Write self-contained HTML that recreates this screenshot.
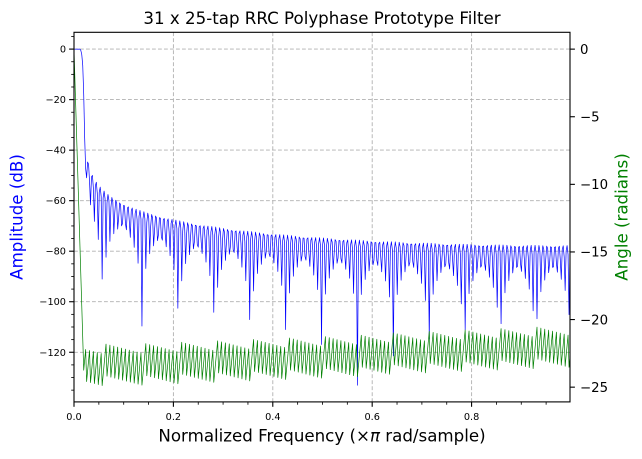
<!DOCTYPE html>
<html>
<head>
<meta charset="utf-8">
<style>
  html, body { margin:0; padding:0; background:#ffffff; }
  body { width:642px; height:459px; overflow:hidden; }
  svg { display:block; }
  text { font-family: "DejaVu Sans", "Liberation Sans", sans-serif; }
</style>
</head>
<body>
<svg id="chart" width="642" height="459" viewBox="0 0 642 459" xmlns="http://www.w3.org/2000/svg">
  <rect x="0" y="0" width="642" height="459" fill="#ffffff"/>
  <defs>
    <clipPath id="axclip"><rect x="74" y="32.3" width="496" height="369.6"/></clipPath>
  </defs>

  <!-- grid -->
  <g stroke="#b0b0b0" stroke-width="0.9" stroke-dasharray="3.8 2.2" fill="none">
    <line x1="173.4" y1="32.3" x2="173.4" y2="401.9"/>
    <line x1="272.8" y1="32.3" x2="272.8" y2="401.9"/>
    <line x1="372.2" y1="32.3" x2="372.2" y2="401.9"/>
    <line x1="471.6" y1="32.3" x2="471.6" y2="401.9"/>
    <line x1="74" y1="49.1" x2="570" y2="49.1"/>
    <line x1="74" y1="99.6" x2="570" y2="99.6"/>
    <line x1="74" y1="150.1" x2="570" y2="150.1"/>
    <line x1="74" y1="200.7" x2="570" y2="200.7"/>
    <line x1="74" y1="251.2" x2="570" y2="251.2"/>
    <line x1="74" y1="301.7" x2="570" y2="301.7"/>
    <line x1="74" y1="352.3" x2="570" y2="352.3"/>
  </g>

  <g clip-path="url(#axclip)">
    <path id="blue" d="" fill="none" stroke="#0000ff" stroke-width="0.7" stroke-linejoin="round"/>
    <path id="green" d="" fill="none" stroke="#008000" stroke-width="0.7" stroke-linejoin="round"/>
  </g>

  <!-- spines -->
  <rect x="74" y="32.3" width="496" height="369.6" fill="none" stroke="#000000" stroke-width="1.1"/>

  <!-- ticks -->
  <g id="ticks" stroke="#000000" fill="none"></g>

  <!-- left tick labels -->
  <g font-size="9.72" fill="#000000" text-anchor="end">
    <text x="66" y="52.6">0</text>
    <text x="66" y="103.1">−20</text>
    <text x="66" y="153.6">−40</text>
    <text x="66" y="204.2">−60</text>
    <text x="66" y="254.7">−80</text>
    <text x="66" y="305.2">−100</text>
    <text x="66" y="355.8">−120</text>
  </g>

  <!-- bottom tick labels -->
  <g font-size="9.72" fill="#000000" text-anchor="middle">
    <text x="74" y="420">0.0</text>
    <text x="173.4" y="420">0.2</text>
    <text x="272.8" y="420">0.4</text>
    <text x="372.2" y="420">0.6</text>
    <text x="471.6" y="420">0.8</text>
  </g>

  <!-- right tick labels -->
  <g font-size="13.3" fill="#000000" text-anchor="start">
    <text x="580" y="53.9">0</text>
    <text x="580" y="121.5">−5</text>
    <text x="580" y="189.1">−10</text>
    <text x="580" y="256.7">−15</text>
    <text x="580" y="324.3">−20</text>
    <text x="580" y="391.9">−25</text>
  </g>

  <!-- title and labels -->
  <text x="322" y="24" font-size="16.67" text-anchor="middle" fill="#000000">31 x 25-tap RRC Polyphase Prototype Filter</text>
  <text x="322" y="441.5" font-size="16.67" text-anchor="middle" fill="#000000">Normalized Frequency (×<tspan font-style="italic">π</tspan> rad/sample)</text>
  <text transform="translate(22.7,217) rotate(-90)" font-size="16.67" text-anchor="middle" fill="#0000ff">Amplitude (dB)</text>
  <text transform="translate(627.3,217) rotate(-90)" font-size="16.67" text-anchor="middle" fill="#008000">Angle (radians)</text>
</svg>

<script>
(function(){
  var NS = "http://www.w3.org/2000/svg";
  function X(k){ return 74 + k*496/511; }
  function YL(db){ return 32.3 + (6.65 - db)*369.6/146.3; }
  function YR(r){ return 32.3 + (1.245 - r)*369.6/27.335; }

  // ticks
  var tg = document.getElementById("ticks");
  function line(x1,y1,x2,y2,w){
    var l = document.createElementNS(NS,"line");
    l.setAttribute("x1",x1); l.setAttribute("y1",y1);
    l.setAttribute("x2",x2); l.setAttribute("y2",y2);
    l.setAttribute("stroke-width",w);
    tg.appendChild(l);
  }
  var db;
  for (db = 5; db >= -135; db -= 5){
    var y = YL(db);
    if (db % 20 === 0) line(69.1,y,74,y,1.1); else line(71.2,y,74,y,0.83);
  }
  for (var i = 0; i <= 19; i++){
    var xv = i*0.05;
    var px = 74 + xv*496/(511/512);
    if (px > 570.5) continue;
    if (i % 4 === 0) line(px,401.9,px,406.8,1.1); else line(px,401.9,px,404.7,0.83);
  }
  for (var r = 0; r >= -25; r -= 5){
    var yr = YR(r);
    line(570,yr,574.9,yr,1.1);
  }

  // RRC filter
  var N = 775, M = 387, sps = 62, beta = 0.25;
  var h = new Float64Array(N);
  for (var n = 0; n < N; n++){
    var t = (n - M)/sps, v;
    if (Math.abs(t) < 1e-12){
      v = 1 - beta + 4*beta/Math.PI;
    } else if (Math.abs(Math.abs(t) - 1/(4*beta)) < 1e-9){
      v = beta/Math.SQRT2*((1+2/Math.PI)*Math.sin(Math.PI/(4*beta)) + (1-2/Math.PI)*Math.cos(Math.PI/(4*beta)));
    } else {
      v = (Math.sin(Math.PI*t*(1-beta)) + 4*beta*t*Math.cos(Math.PI*t*(1+beta))) /
          (Math.PI*t*(1 - 16*beta*beta*t*t));
    }
    h[n] = v;
  }
  var K = 512;
  var mag = new Float64Array(K), ph = new Float64Array(K);
  for (var k = 0; k < K; k++){
    var w = Math.PI*k/K, re = 0, im = 0;
    for (var m = 0; m < N; m++){
      re += h[m]*Math.cos(w*m);
      im -= h[m]*Math.sin(w*m);
    }
    mag[k] = Math.sqrt(re*re + im*im);
    ph[k] = Math.atan2(im, re);
  }
  var m0 = mag[0];
  // unwrap
  var un = new Float64Array(K);
  un[0] = ph[0];
  var corr = 0, TWO = 2*Math.PI;
  for (k = 1; k < K; k++){
    var dd = ph[k] - ph[k-1];
    var a = dd + Math.PI;
    var ddmod = ((a % TWO) + TWO) % TWO - Math.PI;
    if (ddmod === -Math.PI && dd > 0) ddmod = Math.PI;
    var c = ddmod - dd;
    if (Math.abs(dd) < Math.PI) c = 0;
    corr += c;
    un[k] = ph[k] + corr;
  }
  var s1 = "", s2 = "";
  for (k = 0; k < K; k++){
    var d = 20*Math.log10(Math.max(mag[k]/m0, 1e-12));
    var yy = YL(d);
    if (yy > 2000) yy = 2000;
    s1 += (k ? "L" : "M") + X(k).toFixed(2) + " " + yy.toFixed(2);
    s2 += (k ? "L" : "M") + X(k).toFixed(2) + " " + YR(un[k]).toFixed(2);
  }
  document.getElementById("blue").setAttribute("d", s1);
  document.getElementById("green").setAttribute("d", s2);
})();
</script>
</body>
</html>
